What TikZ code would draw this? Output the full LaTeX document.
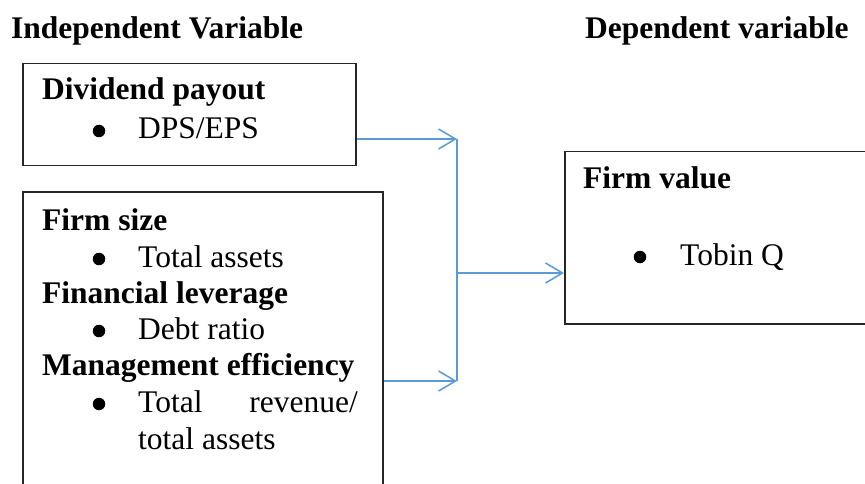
\documentclass[tikz,border=0pt]{standalone}
\usepackage{fontspec}
\setmainfont{Liberation Serif}[Ligatures=TeX]
\usetikzlibrary{arrows.meta,calc}
\definecolor{linkblue}{RGB}{91,155,213}
\begin{document}
\begin{tikzpicture}[x=1pt,y=-1pt,
  box/.style={draw=black!85, line width=1.5pt, inner sep=0pt, anchor=north west, fill=white},
  txt/.style={anchor=base west, inner sep=0pt, font=\fontsize{31.5}{36.5}\selectfont},
  hd/.style={anchor=base west, inner sep=0pt, font=\fontsize{31.5}{36.5}\selectfont\bfseries},
  bul/.style={circle, fill=black, inner sep=0pt, minimum size=12.5pt},
  link/.style={draw=linkblue, line width=1.5pt},
  arr/.style={link, -{Straight Barb[length=17pt,width=20pt,line width=1.5pt]}},
]
\clip (0,0) rectangle (865,484);
\fill[white] (0,0) rectangle (865,484);

% titles
\node[hd] (indep) at (11,39) {Independent Variable};
\node[hd] (dep) at (585,39) {Dependent variable};

% boxes
\node[box, minimum width=333pt, minimum height=102pt] (box1) at (22,63) {};
\node[box, minimum width=360pt, minimum height=320pt] (box2) at (22,191) {};
\node[box, minimum width=320pt, minimum height=172pt] (box3) at (564,151) {};

% box 1 text
\node[hd] (dp) at (42,100) {Dividend payout};
\node[bul] (b1) at (99,131) {};
\node[txt] (dpseps) at (138,139) {DPS/EPS};

% box 2 text
\node[hd] (fs) at (42,230) {Firm size};
\node[bul] (b2) at (99,259) {};
\node[txt] (ta) at (138,267) {Total assets};
\node[hd] (fl) at (42,303) {Financial leverage};
\node[bul] (b3) at (99,331) {};
\node[txt] (dr) at (138,339) {Debt ratio};
\node[hd] (me) at (42,375) {Management efficiency};
\node[bul] (b4) at (99,404) {};
\node[txt] (tr1) at (138,412) {Total};
\node[txt, anchor=base east] (tr2) at (358,412) {revenue/};
\node[txt] (tr3) at (138,449) {total assets};

% box 3 text
\node[hd] (fv) at (583,188) {Firm value};
\node[bul] (b5) at (640,257) {};
\node[txt] (tq) at (680,265) {Tobin Q};

% connectors
\coordinate (j1) at (457,139);
\coordinate (j2) at (457,381);
\coordinate (j3) at (457,273);
\draw[arr] (j1 -| box1.east) -- (j1);
\draw[arr] (j2 -| box2.east) -- (j2);
\draw[link] (j1) -- (j2);
\draw[arr] (j3) -- (j3 -| box3.west);
\end{tikzpicture}
\end{document}
